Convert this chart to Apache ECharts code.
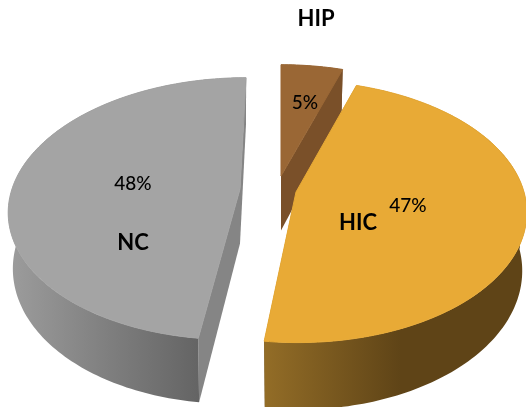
<!DOCTYPE html>
<html>
<head>
<meta charset="utf-8">
<style>html,body{margin:0;padding:0;background:#fff}#chart{width:526px;height:407px}</style>
<script src="https://cdn.jsdelivr.net/npm/echarts@6/dist/echarts.min.js"></script>
</head>
<body>
<div id="chart"></div>
<script>
// Composition by group, clockwise from twelve o'clock
const groupNames = ['HIP', 'HIC', 'NC'];
const groupShares = [5, 47, 48];

// Tilted-disc projection shared by all wedges
const disc = { rx: 228, ry: 128, perspective: 0.15, taper: 0.02 };

// Each wedge is pulled out to its own hub, with a small per-wedge skew
const wedgeStyles = [
  { hub: [281, 176], skew: 0, depth: 54.5, top: '#9a6735', face: '#7a5029',
    wall: [[281, 340], [[0, '#7a5029'], [1, '#7a5029']]],
    nameAt: [316, 19], shareAt: [305, 103] },
  { hub: [296, 192], skew: -1.5, depth: 57, top: '#e8aa36', face: '#5f4417',
    wall: [[264, 526], [[0, '#936d27'], [0.52, '#5f4417'], [1, '#5f4417']]],
    nameAt: [358, 223], shareAt: [408, 206] },
  { hub: [240, 189], skew: 7, depth: 54.5, top: '#a4a4a4', face: '#858585',
    wall: [[10, 199], [[0, '#9c9c9c'], [1, '#646464']]],
    nameAt: [133, 243], shareAt: [133, 184] }
];

const total = groupShares.reduce((a, b) => a + b, 0);
const QUARTER = Math.PI / 2;

function project(style, theta, radius, level) {
  const x = radius * Math.sin(theta);
  const y = radius * Math.cos(theta);
  const s = 1 / (1 + disc.perspective * y);
  const shrink = 1 - level * disc.taper;
  return [
    style.hub[0] + (x * disc.rx + style.skew * y) * s * shrink,
    style.hub[1] - y * disc.ry * s + level * style.depth * s
  ];
}

function arcPoints(style, from, to, level) {
  const pts = [];
  const steps = Math.max(8, Math.ceil((to - from) / 0.02));
  for (let i = 0; i <= steps; i++) {
    pts.push(project(style, from + (to - from) * i / steps, 1, level));
  }
  return pts;
}

function polygon(points, fill, lineWidth) {
  return {
    type: 'polygon',
    shape: { points },
    style: lineWidth ? { fill, stroke: fill, lineWidth } : { fill }
  };
}

// Outer rim between two angles, as a closed band from the top edge to the bottom edge
function rim(style, from, to, fill) {
  const upper = arcPoints(style, from, to, 0);
  const lower = arcPoints(style, from, to, 1);
  return polygon(upper.concat(lower.reverse()), fill);
}

function label(text, at, font) {
  return {
    type: 'text', z2: 10,
    style: { text, x: at[0], y: at[1], font, fill: '#000', align: 'center', verticalAlign: 'middle' }
  };
}

function renderWedge(params, api) {
  const i = params.dataIndex;
  const style = wedgeStyles[i];
  let before = 0;
  for (let k = 0; k < i; k++) before += groupShares[k];
  const from = before / total * Math.PI * 2;
  const to = (before + api.value(0)) / total * Math.PI * 2;

  const topArc = arcPoints(style, from, to, 0);
  const bottomArc = arcPoints(style, from, to, 1);
  const hubTop = project(style, 0, 0, 0);
  const hubBottom = project(style, 0, 0, 1);

  const wallFill = new echarts.graphic.LinearGradient(
    style.wall[0][0], 0, style.wall[0][1], 0,
    style.wall[1].map(s => ({ offset: s[0], color: s[1] })), true
  );

  // Painter's order: far rim, cut faces, near rim, then the top surface
  const children = [];
  if (from < QUARTER) children.push(rim(style, from, Math.min(to, QUARTER), wallFill));
  if (to > 3 * QUARTER) children.push(rim(style, Math.max(from, 3 * QUARTER), to, wallFill));
  children.push(polygon([topArc[0], hubTop, hubBottom, bottomArc[0]], style.face));
  children.push(polygon([topArc[topArc.length - 1], hubTop, hubBottom, bottomArc[bottomArc.length - 1]], style.face));
  const nearFrom = Math.max(from, QUARTER);
  const nearTo = Math.min(to, 3 * QUARTER);
  if (nearTo > nearFrom) children.push(rim(style, nearFrom, nearTo, wallFill));
  children.push(polygon(topArc.concat([hubTop]), style.top, 1));
  children.push(label(groupNames[i], style.nameAt, 'bold 22px Lato'));
  children.push(label(groupShares[i] + '%', style.shareAt, '500 19px Lato'));
  return { type: 'group', children };
}

const chart = echarts.init(document.getElementById('chart'), null, { renderer: 'canvas' });
chart.setOption({
  animation: false,
  backgroundColor: '#ffffff',
  series: [{
    type: 'custom',
    coordinateSystem: 'none',
    renderItem: renderWedge,
    data: groupShares.map((v, i) => ({ name: groupNames[i], value: [v] }))
  }]
});
</script>
</body>
</html>
